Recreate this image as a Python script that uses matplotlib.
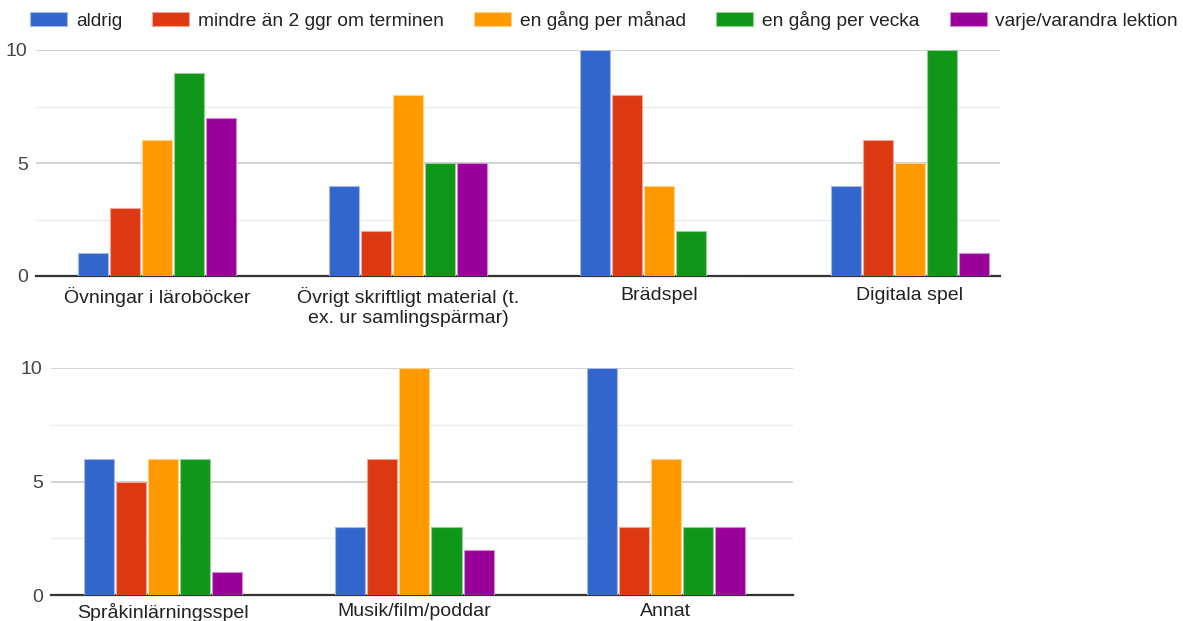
import matplotlib
matplotlib.use("Agg")
import matplotlib.pyplot as plt
import numpy as np
from matplotlib.patches import Patch
from matplotlib.colors import to_rgb

plt.rcParams['font.family'] = ['Liberation Sans', 'DejaVu Sans']

series = ["aldrig", "mindre än 2 ggr om terminen", "en gång per månad",
          "en gång per vecka", "varje/varandra lektion"]
colors = ["#3366cc", "#dc3912", "#ff9900", "#109618", "#990099"]

top_categories = ["Övningar i läroböcker",
                  "Övrigt skriftligt material (t.\nex. ur samlingspärmar)",
                  "Brädspel", "Digitala spel"]
top_values = [
    [1, 4, 10, 4],   # aldrig
    [3, 2, 8, 6],    # mindre än 2 ggr om terminen
    [6, 8, 4, 5],    # en gång per månad
    [9, 5, 2, 10],   # en gång per vecka
    [7, 5, 0, 1],    # varje/varandra lektion
]

bottom_categories = ["Språkinlärningsspel", "Musik/film/poddar", "Annat"]
bottom_values = [
    [6, 3, 10],
    [5, 6, 3],
    [6, 10, 6],
    [6, 3, 3],
    [1, 2, 3],
]

y_ticks = [0, 5, 10]
y_minor = [2.5, 7.5]

W, H = 1183, 621
fig = plt.figure(figsize=(W / 100, H / 100), dpi=100)
FS = 14
LEG_FS = 13.75


def lighten(c, f=0.55):
    r, g, b = to_rgb(c)
    return (r + (1 - r) * f, g + (1 - g) * f, b + (1 - b) * f)


def panel(rect_px, categories, values, xlim, label_pad):
    l, r, t, b = rect_px
    ax = fig.add_axes([l / W, 1 - b / H, (r - l) / W, (b - t) / H])
    n = len(values)
    slot = 32 / 251
    width = 30 / 251
    x = np.arange(len(categories))
    for i, vals in enumerate(values):
        off = (i - (n - 1) / 2) * slot
        ax.bar(x + off, vals, width=width, color=colors[i],
               edgecolor=lighten(colors[i]), linewidth=0.8, zorder=5)
    ax.set_xlim(*xlim)
    ax.set_ylim(0, 10)
    for v in y_minor:
        ax.axhline(v, color="#ebebeb", lw=1, zorder=1)
    for v in y_ticks[1:]:
        ax.axhline(v, color="#cccccc", lw=1.2, zorder=1)
    ax.axhline(0, color="#333333", lw=1.6, zorder=4, clip_on=False)
    ax.set_yticks(y_ticks)
    ax.set_yticklabels([str(v) for v in y_ticks], fontsize=FS, color="#444444")
    ax.set_xticks(x)
    ax.set_xticklabels(categories, fontsize=FS, color="#222222",
                       linespacing=1.25)
    ax.tick_params(axis="both", length=0)
    ax.tick_params(axis="y", pad=6)
    ax.tick_params(axis="x", pad=label_pad)
    for s in ax.spines.values():
        s.set_visible(False)
    return ax


panel((36, 1000, 50, 276), top_categories, top_values, (-0.482, 3.359), 8)
panel((51, 793, 368, 595), bottom_categories, bottom_values, (-0.445, 2.505), 6)

handles = [Patch(facecolor=c, edgecolor=lighten(c), linewidth=0.8) for c in colors]
fig.legend(handles, series, loc="center left", bbox_to_anchor=(30 / W, 1 - 20 / H),
           ncol=5, frameon=False, fontsize=LEG_FS, handlelength=1.95,
           handleheight=0.8, handletextpad=0.45, columnspacing=1.58,
           borderpad=0, borderaxespad=0, labelcolor="#222222")

fig.savefig("out.png", dpi=100, facecolor="white")
